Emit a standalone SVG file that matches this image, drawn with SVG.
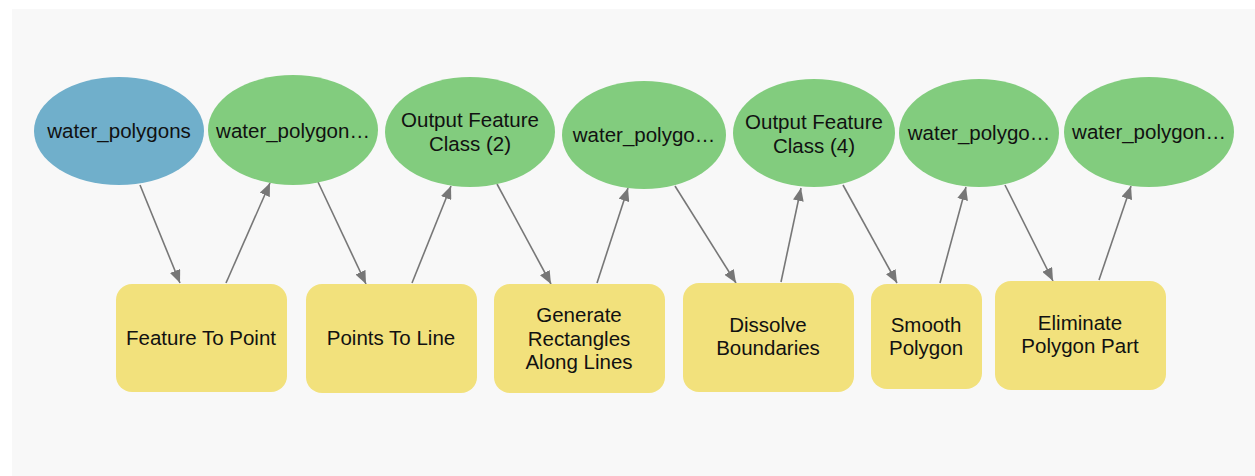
<svg xmlns="http://www.w3.org/2000/svg" width="1255" height="476" viewBox="0 0 1255 476">
<style>
.t{font-family:"Liberation Sans",Arial,sans-serif;font-size:20.5px;fill:#111;text-anchor:middle}
.in{fill:#70afcb}
.out{fill:#82cc7e}
.tool{fill:#f2e17c}
.c{stroke:#777;stroke-width:1.6;fill:none;marker-end:url(#ah)}
</style>
<defs>
<marker id="ah" viewBox="0 0 13 11" refX="13" refY="5.5" markerWidth="13" markerHeight="11" markerUnits="userSpaceOnUse" orient="auto">
<path d="M0,0 L13,5.5 L0,11 Z" fill="#777"/>
</marker>
</defs>
<rect width="1255" height="476" fill="#fff"/>
<rect x="12" y="9" width="1243" height="467" fill="#f8f8f8"/>
<g id="connectors">
<line class="c" x1="140" y1="185" x2="180" y2="283"/>
<line class="c" x1="226" y1="283" x2="270" y2="183"/>
<line class="c" x1="318" y1="182" x2="366" y2="284"/>
<line class="c" x1="412" y1="283" x2="451" y2="186"/>
<line class="c" x1="497" y1="184" x2="551" y2="284"/>
<line class="c" x1="597" y1="283" x2="628" y2="188"/>
<line class="c" x1="675" y1="186" x2="736" y2="283"/>
<line class="c" x1="781" y1="282" x2="801" y2="188"/>
<line class="c" x1="843" y1="185" x2="897" y2="283"/>
<line class="c" x1="940" y1="283" x2="966" y2="187"/>
<line class="c" x1="1005" y1="185" x2="1053" y2="281"/>
<line class="c" x1="1099" y1="280" x2="1131" y2="186"/>
</g>
<g id="n_water_polygons"><ellipse class="in" cx="119" cy="131" rx="85" ry="54"/><text class="t" x="119" y="138">water_polygons</text></g>
<g id="n_out1"><ellipse class="out" cx="293" cy="130" rx="85" ry="55"/><text class="t" x="293" y="138">water_polygon…</text></g>
<g id="n_out2"><ellipse class="out" cx="470" cy="132" rx="85" ry="55"/><text class="t" x="470" y="127">Output Feature</text><text class="t" x="470" y="151">Class (2)</text></g>
<g id="n_out3"><ellipse class="out" cx="644" cy="135" rx="82" ry="54"/><text class="t" x="644" y="142">water_polygo…</text></g>
<g id="n_out4"><ellipse class="out" cx="814" cy="133" rx="81" ry="54"/><text class="t" x="814" y="129">Output Feature</text><text class="t" x="814" y="153">Class (4)</text></g>
<g id="n_out5"><ellipse class="out" cx="979" cy="133" rx="80" ry="54"/><text class="t" x="979" y="140">water_polygo…</text></g>
<g id="n_out6"><ellipse class="out" cx="1149" cy="132" rx="85" ry="55"/><text class="t" x="1149" y="139">water_polygon…</text></g>
<g id="t_feature_to_point"><rect class="tool" x="116" y="284" width="171" height="108" rx="16"/><text class="t" x="201" y="345">Feature To Point</text></g>
<g id="t_points_to_line"><rect class="tool" x="306" y="284" width="171" height="109" rx="16"/><text class="t" x="391" y="345">Points To Line</text></g>
<g id="t_generate_rectangles"><rect class="tool" x="494" y="284" width="171" height="109" rx="16"/><text class="t" x="579" y="322">Generate</text><text class="t" x="579" y="346">Rectangles</text><text class="t" x="579" y="369">Along Lines</text></g>
<g id="t_dissolve_boundaries"><rect class="tool" x="683" y="283" width="171" height="109" rx="16"/><text class="t" x="768" y="332">Dissolve</text><text class="t" x="768" y="355">Boundaries</text></g>
<g id="t_smooth_polygon"><rect class="tool" x="871" y="284" width="111" height="105" rx="16"/><text class="t" x="926" y="332">Smooth</text><text class="t" x="926" y="355">Polygon</text></g>
<g id="t_eliminate_polygon_part"><rect class="tool" x="995" y="281" width="171" height="109" rx="16"/><text class="t" x="1080" y="330">Eliminate</text><text class="t" x="1080" y="353">Polygon Part</text></g>
</svg>
